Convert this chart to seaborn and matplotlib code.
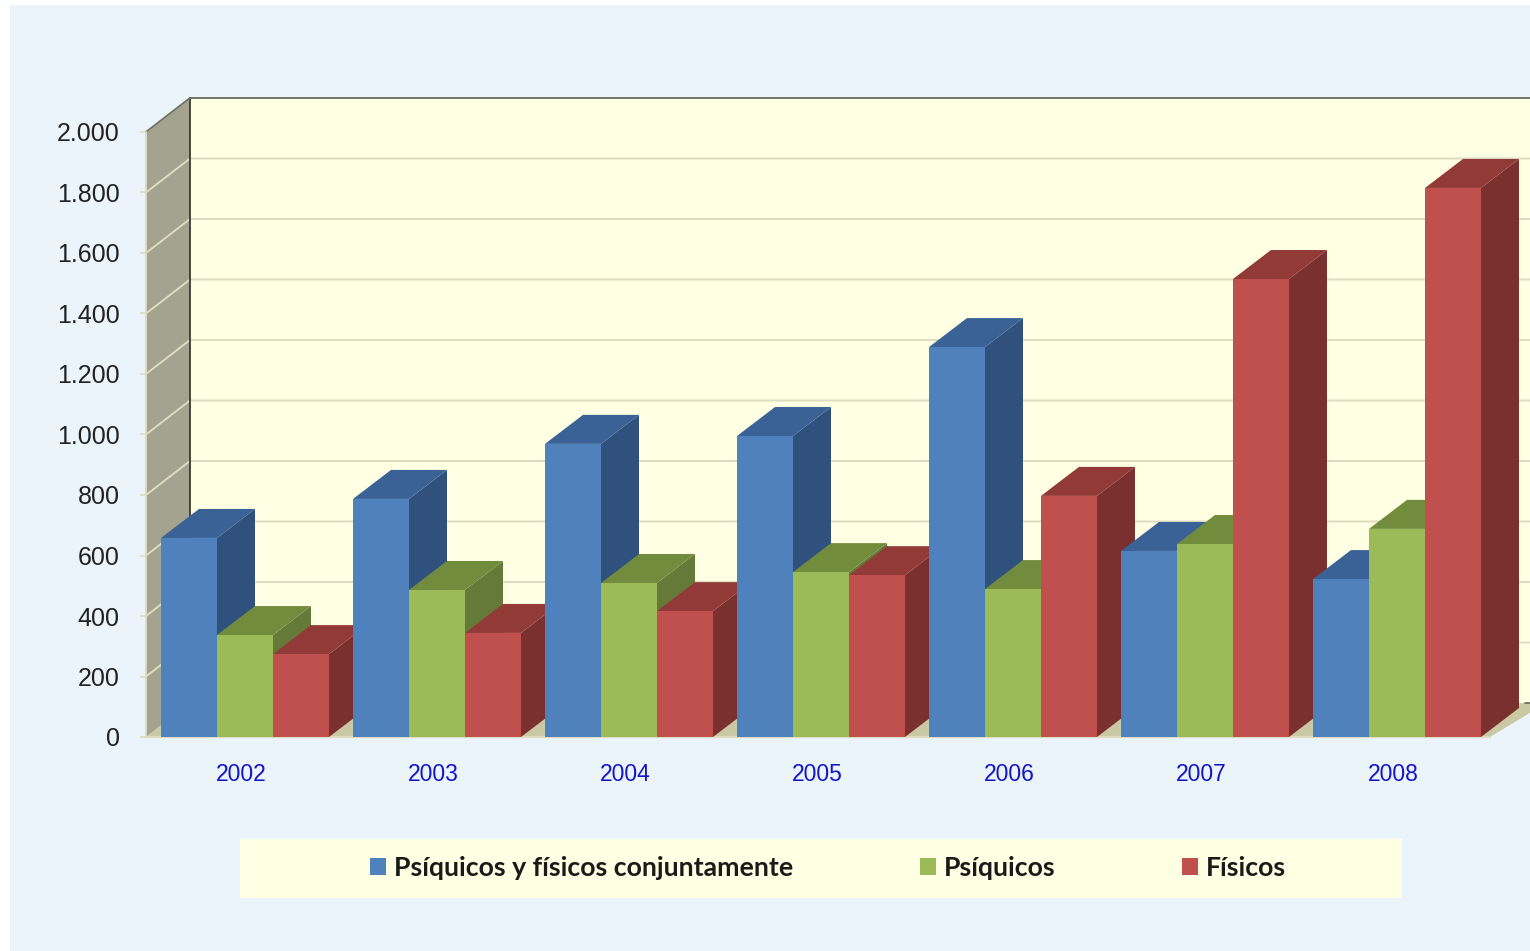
import pandas as pd
import seaborn as sns
import matplotlib
matplotlib.use('Agg')
import matplotlib.pyplot as plt
from matplotlib.patches import Polygon, Rectangle, Patch
from matplotlib.transforms import ScaledTranslation

years = ['2002', '2003', '2004', '2005', '2006', '2007', '2008']
ambos = [658, 787, 969, 995, 1289, 615, 522]
psiquicos = [337, 486, 509, 545, 489, 638, 688]
fisicos = [274, 344, 416, 535, 797, 1514, 1815]
series_names = ['Psíquicos y físicos conjuntamente', 'Psíquicos', 'Físicos']
y_ticks = [0, 200, 400, 600, 800, 1000, 1200, 1400, 1600, 1800, 2000]
y_labels = ['0', '200', '400', '600', '800', '1.000', '1.200', '1.400', '1.600', '1.800', '2.000']

front = ['#4F81BD', '#9BBB59', '#C0504D']
side = ['#30517E', '#657A38', '#7A302E']
top = ['#3A6296', '#718C3D', '#913A37']
panel_col = '#EBF4FA'
wall_col = '#FFFFE3'
left_wall_col = '#A3A38F'
floor_col = '#C9C9A3'
grid_col = '#DEDCC0'

W, H = 1530, 951
sns.set_theme(style='white')
plt.rcParams['font.family'] = ['Liberation Sans', 'DejaVu Sans']

fig = plt.figure(figsize=(W / 100, H / 100), dpi=100, facecolor='white')
fig.add_artist(Rectangle((10 / W, 0), 1, 1 - 5 / H, transform=fig.transFigure,
                         color=panel_col, lw=0, zorder=-5))
ax = fig.add_axes([146 / W, 1 - 737 / H, 1344 / W, 605 / H])
ax.patch.set_alpha(0)

df = pd.DataFrame({'year': years * 3,
                   'value': ambos + psiquicos + fisicos,
                   'serie': sum([[s] * 7 for s in series_names], [])})
sns.barplot(data=df, x='year', y='value', hue='serie', hue_order=series_names,
            palette=front, width=0.875, gap=0, saturation=1, legend=False,
            linewidth=0, ax=ax)

ax.set_xlim(-99 / 192, 1344 / 192 - 99 / 192)
ax.set_ylim(0, 2000)
x0, x1 = ax.get_xlim()

# fake depth, in data units
units_x = 192
units_y = 605 / 2000
wall_dx, wall_dy = 44 / units_x, 34 / units_y
bar_dx, bar_dy = 38 / units_x, 29 / units_y
far_right = x0 + (W + 20 - 146) / units_x

ax.add_patch(Polygon([(x0 + wall_dx, wall_dy), (far_right, wall_dy), (far_right, 2000 + wall_dy), (x0 + wall_dx, 2000 + wall_dy)],
                     color=wall_col, lw=0, zorder=0.5, clip_on=False))
ax.add_patch(Polygon([(x0, 0), (x0 + wall_dx, wall_dy), (x0 + wall_dx, 2000 + wall_dy), (x0, 2000)],
                     color=left_wall_col, lw=0, zorder=0.6, clip_on=False))
ax.add_patch(Polygon([(x0, 0), (x0 + wall_dx, wall_dy), (far_right, wall_dy), (far_right - 0.02, wall_dy), (x1, 0)],
                     color=floor_col, lw=0, zorder=0.7, clip_on=False))

for t in y_ticks[1:]:
    ax.plot([x0, x0 + wall_dx, far_right], [t, t + wall_dy, t + wall_dy], color=grid_col, lw=1.4,
            zorder=0.9, clip_on=False)
ax.plot([x0 + wall_dx] * 2, [wall_dy, 2000 + wall_dy], color='#3A3A36', lw=1.3, zorder=1, clip_on=False)
ax.plot([x0, x0 + wall_dx, far_right], [2000, 2000 + wall_dy, 2000 + wall_dy], color='#6E6E62', lw=1.3, zorder=1, clip_on=False)
ax.plot([x0, x0], [0, 2000], color=grid_col, lw=1.4, zorder=1, clip_on=False)
ax.plot([x0, x1], [0, 0], color=grid_col, lw=1.6, zorder=1, clip_on=False)
ax.plot([x1 + 0.18, far_right], [wall_dy, wall_dy], color='#6E6E62', lw=1.3, zorder=1, clip_on=False)

# side and top of every bar, painted left to right
bars = []
for k, cont in enumerate(ax.containers):
    for b in cont:
        bars.append((b, k))
bars.sort(key=lambda item: item[0].get_x())
for i, (b, k) in enumerate(bars):
    xa = b.get_x()
    xb = xa + b.get_width()
    h = b.get_height()
    ax.add_patch(Polygon([(xb, 0), (xb + bar_dx, bar_dy), (xb + bar_dx, h + bar_dy), (xb, h)],
                         color=side[k], lw=0, zorder=3 + i, clip_on=False))
    ax.add_patch(Polygon([(xa, h), (xa + bar_dx, h + bar_dy), (xb + bar_dx, h + bar_dy), (xb, h)],
                         color=top[k], lw=0, zorder=3 + i, clip_on=False))
    b.set_zorder(3.5 + i)
    b.set_clip_on(False)

sns.despine(ax=ax, left=True, bottom=True)
ax.set_xlabel('')
ax.set_ylabel('')
ax.set_yticks(y_ticks, y_labels)
ax.tick_params(axis='y', length=4, width=1.2, color=grid_col, pad=15, labelsize=18, labelcolor='#222222', left=True)
ax.tick_params(axis='x', length=0, pad=19, labelsize=16.5, labelcolor='#1515C8')
shift = ScaledTranslation(-4 / 100, 0, fig.dpi_scale_trans)
for lab in ax.get_xticklabels():
    lab.set_transform(lab.get_transform() + shift)

# legend band
fig.add_artist(Rectangle((240 / W, 1 - 898 / H), 1162 / W, 59 / H, transform=fig.transFigure,
                         color=wall_col, lw=0, zorder=1))
handles = [Patch(color=c, lw=0) for c in front]
leg = fig.legend(handles, series_names, loc='center left', bbox_to_anchor=(370 / W, 1 - 868 / H),
                 ncol=3, frameon=False, borderpad=0, borderaxespad=0,
                 prop={'family': 'Lato', 'weight': 'bold', 'size': 19.2},
                 handlelength=0.6, handleheight=0.6, handletextpad=0.3, columnspacing=4.75)
for txt in leg.get_texts():
    txt.set_color('#1A1A1A')

fig.savefig('out.png', dpi=100)
